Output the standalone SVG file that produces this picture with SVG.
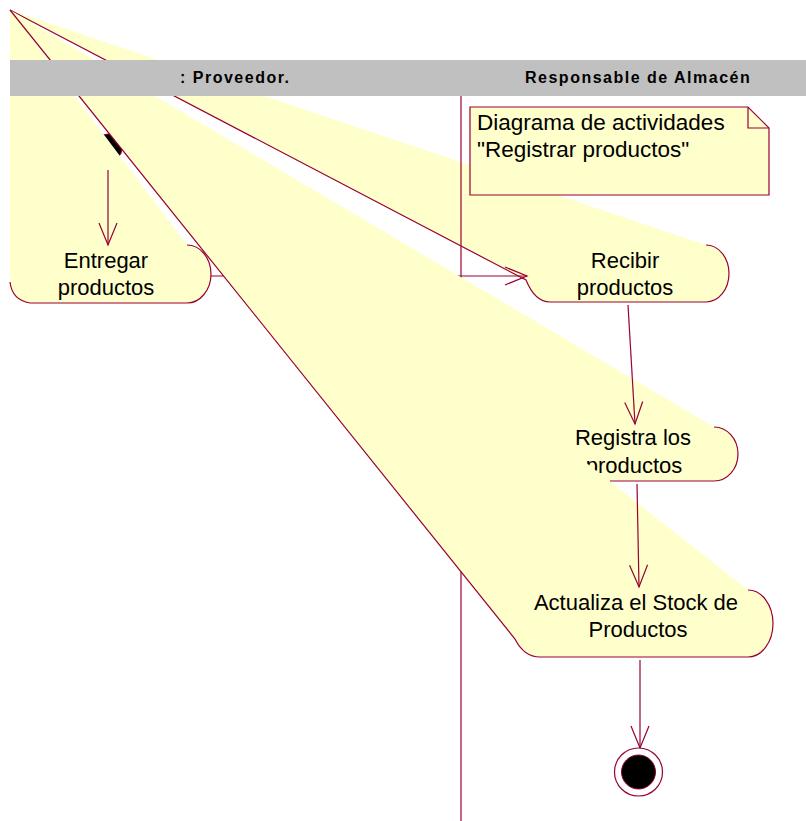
<svg xmlns="http://www.w3.org/2000/svg" width="806" height="821" viewBox="0 0 806 821">
  <defs>
    <style>
      .fill { fill: #FFFFCC; stroke: none; }
      .edge { fill: none; stroke: #990033; stroke-width: 1.2; }
      .label { font-family: "Liberation Sans", Arial, sans-serif; font-size: 22px; fill: #000000; text-anchor: middle; }
      .note-text { font-family: "Liberation Sans", Arial, sans-serif; font-size: 22.5px; fill: #000000; }
      .lane { font-family: "Liberation Sans", Arial, sans-serif; font-size: 16px; font-weight: bold; letter-spacing: 1.5px; fill: #000000; }
      .flow { fill: none; stroke: #990033; stroke-width: 1.2; marker-end: url(#open-arrow); }
    </style>
    <marker id="open-arrow" viewBox="-24 -12 26 24" refX="0" refY="0" markerWidth="26" markerHeight="24" markerUnits="userSpaceOnUse" orient="auto">
      <path d="M-22,-9 L0,0 L-22,9" fill="none" stroke="#990033" stroke-width="1.2"/>
    </marker>
  </defs>

  <rect width="806" height="821" fill="#FFFFFF"/>

  <!-- initial state (mostly hidden beneath the activity shapes) -->
  <g id="initial-state">
    <circle cx="108" cy="148" r="14" fill="#000000" stroke="#990033" stroke-width="1"/>
  </g>

  <!-- activity: Entregar productos -->
  <g id="entregar-productos">
    <path class="fill" d="M10,10 L187,245 A24 29 0 0 1 187,303 L30,303 Q12,300 10,282 Z"/>
    <path class="edge" d="M187,245 A24 29 0 0 1 187,303 L30,303 Q12,300 10,282"/>
    <text class="label" x="106" y="268">Entregar</text>
    <text class="label" x="106" y="295">productos</text>
  </g>

  <!-- activity: Recibir productos -->
  <g id="recibir-productos">
    <path class="fill" d="M10,10 L706,245 A23 28.5 0 0 1 706,302 L550,302 Q535,302 526,280 Z"/>
    <path class="edge" d="M706,245 A23 28.5 0 0 1 706,302 L550,302 Q535,302 526,280 L10,10"/>
    <text class="label" x="625" y="268">Recibir</text>
    <text class="label" x="625" y="295">productos</text>
  </g>

  <!-- swimlane divider and the first transition, drawn under the later shapes -->
  <g id="connectors-under">
    <line x1="461" y1="96" x2="461" y2="821" stroke="#990033" stroke-width="1.2"/>
    <path class="flow" d="M211,276 L527,276"/>
  </g>

  <!-- activity: Registra los productos -->
  <g id="registra-productos">
    <path class="fill" d="M10,10 L714,427 A24 27 0 0 1 714,481 L604,481 Z"/>
    <path class="edge" d="M714,427 A24 27 0 0 1 714,481 L610,481"/>
    <text class="label" x="633" y="445">Registra los</text>
    <text class="label" x="634" y="473">productos</text>
  </g>

  <!-- activity: Actualiza el Stock de Productos -->
  <g id="actualiza-stock">
    <path class="fill" d="M10,10 L748,590 A25 33.5 0 0 1 748,657 L540,657 Q524,657 515,639 Z"/>
    <path class="edge" d="M748,590 A25 33.5 0 0 1 748,657 L540,657 Q524,657 515,639 L10,10"/>
    <text class="label" x="636" y="610">Actualiza el Stock de</text>
    <text class="label" x="638" y="637">Productos</text>
  </g>

  <!-- transitions -->
  <g id="connectors">
    <path class="flow" d="M108,170 L108,245"/>
    <path class="flow" d="M628,305 L635,424"/>
    <path class="flow" d="M637,484 L639,587"/>
    <path class="flow" d="M640,660 L640,748"/>
  </g>

  <!-- final state -->
  <g id="final-state">
    <circle cx="638.5" cy="772" r="24" fill="#FFFFFF" stroke="#990033" stroke-width="1.2"/>
    <circle cx="638.5" cy="772" r="17" fill="#000000" stroke="#990033" stroke-width="1"/>
  </g>

  <!-- swimlane header -->
  <g id="swimlanes">
    <rect x="10" y="60" width="796" height="36" fill="#C0C0C0"/>
    <text class="lane" x="180" y="83">: Proveedor.</text>
    <text class="lane" x="525" y="83">Responsable de Almacén</text>
  </g>

  <!-- note -->
  <g id="note">
    <path d="M470,107 L748,107 L769,128 L769,195 L470,195 Z" fill="#FFFFCC" stroke="#990033" stroke-width="1.2"/>
    <path d="M748,107 L748,128 L769,128" fill="none" stroke="#990033" stroke-width="1.2"/>
    <text class="note-text" x="477" y="130">Diagrama de actividades</text>
    <text class="note-text" x="477" y="157">"Registrar productos"</text>
  </g>
</svg>
